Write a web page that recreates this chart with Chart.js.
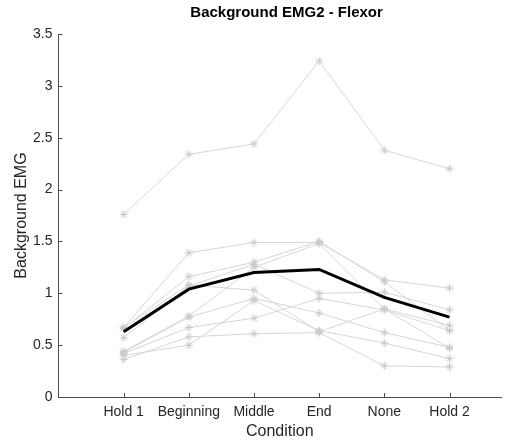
<!DOCTYPE html>
<html>
<head>
<meta charset="utf-8">
<script src="https://cdn.jsdelivr.net/npm/chart.js@4.4.1/dist/chart.umd.min.js"></script>
<style>
    body { margin: 0; background: #ffffff; }
    #wrap { width: 508px; height: 441px; }
</style>
</head>
<body>
<div id="wrap"><canvas id="myChart" width="508" height="441"></canvas></div>
<script>
// condition names, placed at x = 1..6
const conditions = ["Hold 1", "Beginning", "Middle", "End", "None", "Hold 2"]
const yTicks = [0, 0.5, 1, 1.5, 2, 2.5, 3, 3.5]

// one row per subject
const subject1 = [1.76, 2.34, 2.44, 3.24, 2.38, 2.20]
const subject2 = [0.67, 1.39, 1.49, 1.49, 1.13, 1.05]
const subject3 = [0.66, 1.16, 1.30, 1.50, 1.11, 0.64]
const subject4 = [0.67, 1.08, 1.03, 0.63, 0.85, 0.69]
const subject5 = [0.57, 1.07, 1.28, 1.00, 1.01, 0.84]
const subject6 = [0.44, 0.78, 1.25, 1.48, 0.85, 0.47]
const subject7 = [0.43, 0.77, 0.95, 0.81, 0.62, 0.48]
const subject8 = [0.42, 0.67, 0.76, 0.95, 0.84, 0.64]
const subject9 = [0.40, 0.50, 0.93, 0.64, 0.52, 0.37]
const subject10 = [0.36, 0.58, 0.61, 0.62, 0.30, 0.29]
const groupMean = [0.63, 1.04, 1.20, 1.23, 0.96, 0.77]

const subjects = [subject1, subject2, subject3, subject4, subject5,
    subject6, subject7, subject8, subject9, subject10]

const fontFamily = "'Liberation Sans', Arial, Helvetica, sans-serif"

function toPoints(values) {
    let points = []
    for (let i = 0; i < values.length; i++) {
        points.push({x: i + 1, y: values[i]})
    }
    return points
}

let datasets = [{
    data: toPoints(groupMean),
    borderColor: "#000000",
    borderWidth: 3,
    pointRadius: 0,
    fill: false
}]
subjects.forEach(values => {
    datasets.push({
        data: toPoints(values),
        borderColor: "#d6d6d6",
        borderWidth: 1,
        pointStyle: "star",
        pointRadius: 4,
        pointBorderColor: "#cacaca",
        pointBorderWidth: 1,
        fill: false
    })
})

// MATLAB style ticks pointing into the plot, plus the title over the full axes width
const matlabAxes = {
    id: "matlabAxes",
    afterDraw(chart) {
        const ctx = chart.ctx
        const xs = chart.scales.x
        const ys = chart.scales.y
        ctx.save()
        ctx.strokeStyle = "#4d4d4d"
        ctx.lineWidth = 1
        ctx.beginPath()
        yTicks.forEach(v => {
            const py = Math.round(ys.getPixelForValue(v)) + 0.5
            ctx.moveTo(xs.left, py)
            ctx.lineTo(xs.left + 4, py)
        })
        for (let i = 1; i <= conditions.length; i++) {
            const px = Math.round(xs.getPixelForValue(i)) + 0.5
            ctx.moveTo(px, ys.bottom)
            ctx.lineTo(px, ys.bottom - 4)
        }
        ctx.stroke()

        ctx.fillStyle = "#000000"
        ctx.font = "bold 15px " + fontFamily
        ctx.textAlign = "center"
        ctx.textBaseline = "middle"
        ctx.fillText("Background EMG2 - Flexor", xs.getPixelForValue(3.5), 13)
        ctx.restore()
    }
}

const chart = new Chart(document.getElementById("myChart"), {
    type: "line",
    data: { datasets: datasets },
    options: {
        responsive: false,
        animation: false,
        events: [],
        layout: { padding: { top: 34, right: 0, bottom: 0, left: 0 } },
        plugins: {
            legend: { display: false },
            tooltip: { enabled: false },
            title: { display: false }
        },
        scales: {
            x: {
                type: "linear",
                min: 0,
                max: 6.79,
                grid: { display: false, drawTicks: false },
                border: { display: true, color: "#4d4d4d", width: 1 },
                ticks: {
                    stepSize: 1,
                    autoSkip: false,
                    maxRotation: 0,
                    padding: 7,
                    color: "#262626",
                    font: { family: fontFamily, size: 14 },
                    callback: v => (Number.isInteger(v) && v >= 1 && v <= conditions.length) ? conditions[v - 1] : ""
                },
                title: {
                    display: true,
                    text: "Condition",
                    color: "#262626",
                    font: { family: fontFamily, size: 16 },
                    padding: { top: 0, bottom: 0 }
                },
                afterFit: scale => { scale.height = 44 }
            },
            y: {
                min: 0,
                max: 3.5,
                grid: { display: false, drawTicks: false },
                border: { display: true, color: "#4d4d4d", width: 1 },
                ticks: {
                    stepSize: 0.5,
                    padding: 6,
                    color: "#262626",
                    font: { family: fontFamily, size: 14 },
                    callback: v => String(v)
                },
                title: {
                    display: true,
                    text: "Background EMG",
                    color: "#262626",
                    font: { family: fontFamily, size: 16 },
                    padding: { top: 12, bottom: 0 }
                },
                afterFit: scale => { scale.width = 58.5 }
            }
        }
    },
    plugins: [matlabAxes]
})
</script>
</body>
</html>
